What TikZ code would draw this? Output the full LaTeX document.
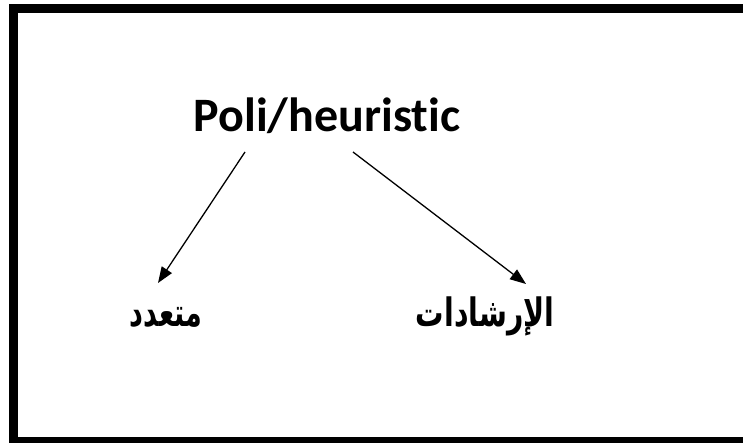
\documentclass[tikz,border=0pt]{standalone}
\usepackage{fontspec}
\setmainfont{Carlito}[Ligatures=NoCommon]
\newfontfamily\arabicfont[Script=Arabic]{DejaVu Sans}
\TeXXeTstate=1
\usetikzlibrary{arrows.meta}
\begin{document}
\begin{tikzpicture}[x=1pt,y=-1pt,
  lbl/.style={inner sep=0pt, anchor=base},
  ar/.style={lbl, font=\arabicfont\bfseries\fontsize{27}{30}\selectfont},
  arr/.style={-{Triangle[length=16pt,width=12pt]}, line width=1.3pt}]
\useasboundingbox (0,0) rectangle (743,443);
\clip (0,0) rectangle (743,443);
\draw[line width=9pt] (13,8.5) rectangle (760,441.5);
\node[lbl, font=\bfseries\fontsize{48}{54}\selectfont] (t) at (327,132) {Poli/heuristic};
\node[ar] (a) at (166,326) {\scalebox{1}[1.45]{\beginR متعدد\endR}};
\node[ar] (b) at (485,326) {\scalebox{1.05}[1.45]{\beginR الإرشادات\endR}};
\coordinate (s1) at (245,152);
\coordinate (s2) at (353,152);
\coordinate (e1) at (158,283);
\coordinate (e2) at (526,284);
\draw[arr] (s1) -- (e1);
\draw[arr] (s2) -- (e2);
\end{tikzpicture}
\end{document}
